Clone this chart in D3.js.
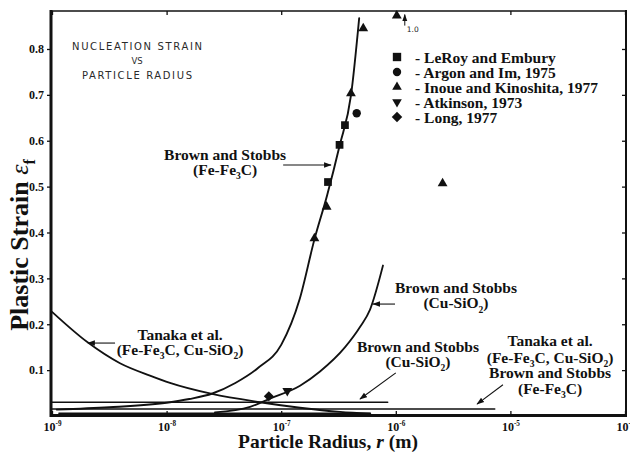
<!DOCTYPE html>
<html>
<head>
<meta charset="utf-8">
<script src="https://cdn.jsdelivr.net/npm/d3@7"></script>
<style>
  body { margin: 0; background: #fff; }
  svg { display: block; }
</style>
</head>
<body>
<svg id="chart" width="630" height="455"></svg>
<script>
// ---- Data: particle radius r (m) vs. nucleation plastic strain ----
const radiusTicks   = [1e-9, 1e-8, 1e-7, 1e-6, 1e-5, 1e-4];
const tickExponents = ["-9", "-8", "-7", "-6", "-5", "-4"];
const strainTicks   = [0.1, 0.2, 0.3, 0.4, 0.5, 0.6, 0.7, 0.8];

// Brown and Stobbs (Fe-Fe3C) prediction
const brownFeRadius = [1.10e-9, 3.16e-9, 1.0e-8, 1.58e-8, 2.51e-8, 3.98e-8, 6.31e-8, 1.0e-7, 1.45e-7, 1.95e-7, 2.51e-7, 3.24e-7, 4.07e-7, 4.79e-7];
const brownFeStrain = [0.014, 0.019, 0.029, 0.037, 0.049, 0.072, 0.105, 0.155, 0.255, 0.385, 0.480, 0.590, 0.700, 0.867];

// Brown and Stobbs (Cu-SiO2) prediction
const brownCuRadius = [2.64e-8, 5.35e-8, 7.98e-8, 1.46e-7, 2.18e-7, 3.61e-7, 4.90e-7, 5.96e-7, 7.73e-7];
const brownCuStrain = [0.008, 0.020, 0.038, 0.066, 0.097, 0.150, 0.195, 0.232, 0.328];

// Tanaka et al. (Fe-Fe3C, Cu-SiO2) prediction
const tanakaRadius = [1.0e-9, 2.06e-9, 3.92e-9, 7.16e-9, 1.07e-8, 2.49e-8, 6.53e-8, 1.46e-7, 3.26e-7, 5.96e-7];
const tanakaStrain = [0.227, 0.160, 0.115, 0.088, 0.072, 0.048, 0.030, 0.018, 0.009, 0.005];

// Lower-bound horizontal limits
const limitCuRadius   = [1.0e-9, 8.5e-7];
const limitCuStrain   = [0.030, 0.030];
const limitFeRadius   = [1.0e-9, 7.3e-6];
const limitFeStrain   = [0.015, 0.015];
const limitLowRadius  = [1.15e-9, 6.0e-7];
const limitLowStrain  = [0.006, 0.006];

// Experimental points
const leroyRadius    = [2.56e-7, 3.23e-7, 3.60e-7];
const leroyStrain    = [0.510, 0.591, 0.634];
const argonRadius    = [4.56e-7];
const argonStrain    = [0.660];
const inoueRadius    = [1.95e-7, 2.49e-7, 4.06e-7, 5.20e-7, 2.56e-6, 1.02e-6];
const inoueStrain    = [0.387, 0.456, 0.703, 0.845, 0.507, 1.0];
const atkinsonRadius = [1.13e-7];
const atkinsonStrain = [0.055];
const longRadius     = [7.8e-8];
const longStrain     = [0.043];

const legendLabels = ["- LeRoy and Embury", "- Argon and Im, 1975", "- Inoue and Kinoshita, 1977", "- Atkinson, 1973", "- Long, 1977"];

// ---- Layout ----
const svg = d3.select("#chart");
const serif = "'Liberation Serif', 'Times New Roman', serif";
const x = d3.scaleLog().domain([1e-9, 1e-4]).range([52, 625]);
const y = d3.scaleLinear().domain([0, 0.8828]).range([416, 11]);
const yTop = y.domain()[1] - 0.01;

svg.append("rect").attr("width", 630).attr("height", 455).attr("fill", "#fff");

const defs = svg.append("defs");
defs.append("marker").attr("id", "head").attr("viewBox", "0 0 10 10")
  .attr("refX", 9).attr("refY", 5).attr("markerWidth", 7).attr("markerHeight", 7)
  .attr("orient", "auto")
  .append("path").attr("d", "M0,1.5 L10,5 L0,8.5 Z").attr("fill", "#111");

// rich text: parts are [text, style] with style "sub", "sup", "it", "bi" or undefined
function rich(sel, parts, size) {
  let shift = 0;
  parts.forEach(([t, s]) => {
    const ts = sel.append("tspan").text(t);
    let target = 0;
    if (s === "sub") { ts.attr("font-size", size * 0.62); target = size * 0.28; }
    if (s === "sup") { ts.attr("font-size", size * 0.6); target = -size * 0.42; }
    if (s === "it") { ts.attr("font-style", "italic").attr("font-weight", "normal"); }
    if (s === "bi") { ts.attr("font-style", "italic"); }
    if (target !== shift) ts.attr("dy", target - shift);
    shift = target;
  });
  return sel;
}

// ---- Axes ----
const gLeft = svg.append("g").attr("transform", "translate(51,0)")
  .call(d3.axisLeft(y).tickValues(strainTicks).tickSize(4).tickSizeOuter(0).tickPadding(3).tickFormat(d3.format(".1f")));
const gRight = svg.append("g").attr("transform", "translate(626,0)")
  .call(d3.axisLeft(y).tickValues(strainTicks).tickSize(4).tickSizeOuter(0).tickFormat(""));
const gBottom = svg.append("g").attr("transform", "translate(0,415)")
  .call(d3.axisBottom(x).tickValues(radiusTicks).tickSize(-4).tickSizeOuter(0).tickFormat(() => ""));
const gTop = svg.append("g").attr("transform", "translate(0,11)")
  .call(d3.axisBottom(x).tickValues(radiusTicks).tickSize(4).tickSizeOuter(0).tickFormat(""));

[gLeft, gRight, gBottom, gTop].forEach(g => {
  g.select(".domain").remove();
  g.selectAll(".tick line").attr("stroke", "#111").attr("stroke-width", 1.3);
});
gLeft.selectAll(".tick text").attr("font-family", serif).attr("font-weight", "bold")
  .attr("font-size", 12).attr("fill", "#111");

gBottom.selectAll(".tick text").each(function(d, i) {
  const t = d3.select(this).text(null).attr("font-family", serif).attr("font-weight", "bold")
    .attr("font-size", 12).attr("fill", "#111").attr("y", 16).attr("dy", null);
  rich(t, [["10"], [tickExponents[i], "sup"]], 12);
});

// frame
const frame = svg.append("g").attr("stroke", "#111").attr("fill", "none");
frame.append("line").attr("x1", 51).attr("x2", 51).attr("y1", 10).attr("y2", 417).attr("stroke-width", 3);
frame.append("line").attr("x1", 50).attr("x2", 627).attr("y1", 415.5).attr("y2", 415.5).attr("stroke-width", 3);
frame.append("line").attr("x1", 50).attr("x2", 627).attr("y1", 11).attr("y2", 11).attr("stroke-width", 1.6);
frame.append("line").attr("x1", 626).attr("x2", 626).attr("y1", 10).attr("y2", 417).attr("stroke-width", 2);

// axis titles
const yTitle = svg.append("text").attr("transform", "translate(28,245) rotate(-90)")
  .attr("text-anchor", "middle").attr("font-family", serif).attr("font-weight", "bold")
  .attr("font-size", 26).attr("fill", "#111");
rich(yTitle, [["Plastic Strain "], ["\u03B5", "it"], ["f", "sub"]], 26);

const xTitle = svg.append("text").attr("x", 328).attr("y", 448)
  .attr("text-anchor", "middle").attr("font-family", serif).attr("font-weight", "bold")
  .attr("font-size", 19.5).attr("fill", "#111");
rich(xTitle, [["Particle Radius, "], ["r", "bi"], [" (m)"]], 19.5);

// ---- Curves ----
const zip = (rs, ss) => rs.map((r, i) => [r, ss[i]]);
const line = d3.line().x(d => x(d[0])).y(d => y(d[1])).curve(d3.curveMonotoneX);
const curves = svg.append("g").attr("fill", "none").attr("stroke", "#111").attr("stroke-linecap", "round");

curves.append("path").attr("d", line(zip(limitCuRadius, limitCuStrain))).attr("stroke-width", 1.5);
curves.append("path").attr("d", line(zip(limitFeRadius, limitFeStrain))).attr("stroke-width", 1.5);
curves.append("path").attr("d", line(zip(limitLowRadius, limitLowStrain))).attr("stroke-width", 1.6);
curves.append("path").attr("d", line(zip(tanakaRadius, tanakaStrain))).attr("stroke-width", 1.8);
curves.append("path").attr("d", line(zip(brownCuRadius, brownCuStrain))).attr("stroke-width", 1.8);
curves.append("path").attr("d", line(zip(brownFeRadius, brownFeStrain))).attr("stroke-width", 1.9);

// ---- Experimental markers ----
const marks = svg.append("g").attr("fill", "#111");
const sym = (type, size) => d3.symbol().type(type).size(size)();
function plot(rs, ss, type, size, rot) {
  zip(rs, ss).forEach(([r, s]) => {
    const cy = y(Math.min(s, yTop));
    marks.append("path").attr("d", sym(type, size))
      .attr("transform", `translate(${x(r)},${cy}) rotate(${rot || 0})`);
    if (s > yTop) {
      // off-scale point: up arrow with its value
      const ax = x(r) + 8;
      svg.append("line").attr("x1", ax).attr("x2", ax).attr("y1", cy + 10).attr("y2", cy - 1)
        .attr("stroke", "#111").attr("stroke-width", 1).attr("marker-end", "url(#head)");
      svg.append("text").attr("x", ax + 2).attr("y", cy + 16).attr("font-family", "DejaVu Sans, sans-serif")
        .attr("font-size", 7.5).attr("fill", "#222").text(d3.format(".1f")(s));
    }
  });
}
plot(leroyRadius, leroyStrain, d3.symbolSquare, 60);
plot(argonRadius, argonStrain, d3.symbolCircle, 55);
plot(inoueRadius, inoueStrain, d3.symbolTriangle, 42);
plot(atkinsonRadius, atkinsonStrain, d3.symbolTriangle, 42, 180);
plot(longRadius, longStrain, d3.symbolSquare, 50, 45);

// ---- Legend ----
const legendTypes = [[d3.symbolSquare, 70, 0], [d3.symbolCircle, 55, 0], [d3.symbolTriangle, 40, 0], [d3.symbolTriangle, 40, 180], [d3.symbolSquare, 55, 45]];
const legend = svg.append("g").attr("transform", "translate(397,57)");
legendLabels.forEach((lab, i) => {
  const row = legend.append("g").attr("transform", `translate(0,${i * 15})`);
  row.append("path").attr("d", sym(legendTypes[i][0], legendTypes[i][1]))
    .attr("transform", `rotate(${legendTypes[i][2]})`).attr("fill", "#111");
  row.append("text").attr("x", 18).attr("y", 5.5).attr("font-family", serif).attr("font-weight", "bold")
    .attr("font-size", 15.5).attr("fill", "#111").text(lab);
});

// ---- Heading lettering ----
const heading = svg.append("g").attr("font-family", "'DejaVu Sans', sans-serif").attr("font-size", 10)
  .attr("fill", "#2a2a2a").attr("text-anchor", "middle");
heading.append("text").attr("x", 137).attr("y", 50).attr("textLength", 130).attr("lengthAdjust", "spacing").text("NUCLEATION STRAIN");
heading.append("text").attr("x", 137).attr("y", 63.5).attr("font-size", 8.5).text("VS");
heading.append("text").attr("x", 137).attr("y", 79).attr("textLength", 110).attr("lengthAdjust", "spacing").text("PARTICLE RADIUS");

// ---- Annotations (positions in data units: radius, strain) ----
const FE = [["(Fe-Fe"], ["3", "sub"], ["C)"]];
const CU = [["(Cu-SiO"], ["2", "sub"], [")"]];
const BOTH = [["(Fe-Fe"], ["3", "sub"], ["C, Cu-SiO"], ["2", "sub"], [")"]];
const annotations = [
  { r: 3.24e-8, lines: [[[["Brown and Stobbs"]], 0.558], [FE, 0.525]],
    from: [1.04e-7, 0.547], to: [2.72e-7, 0.547] },
  { r: 1.31e-8, lines: [[[["Tanaka et al."]], 0.166], [BOTH, 0.133]],
    from: [3.55e-9, 0.159], to: [2.06e-9, 0.159] },
  { r: 3.35e-6, lines: [[[["Brown and Stobbs"]], 0.268], [CU, 0.235]],
    from: [9.84e-7, 0.244], to: [6.33e-7, 0.244] },
  { r: 1.56e-6, lines: [[[["Brown and Stobbs"]], 0.140], [CU, 0.107]],
    from: [1.0e-6, 0.094], to: [4.87e-7, 0.037] },
  { r: 2.22e-5, lines: [[[["Tanaka et al."]], 0.153], [BOTH, 0.116], [[["Brown and Stobbs"]], 0.083], [FE, 0.048]],
    from: [8.61e-6, 0.068], to: [5.12e-6, 0.026] }
];
const ann = svg.append("g");
annotations.forEach(a => {
  a.lines.forEach(([parts, s]) => {
    const t = ann.append("text").attr("x", x(a.r)).attr("y", y(s)).attr("text-anchor", "middle")
      .attr("font-family", serif).attr("font-weight", "bold").attr("font-size", 15.5).attr("fill", "#111");
    rich(t, parts, 15.5);
  });
  ann.append("line").attr("x1", x(a.from[0])).attr("y1", y(a.from[1]))
    .attr("x2", x(a.to[0])).attr("y2", y(a.to[1]))
    .attr("stroke", "#111").attr("stroke-width", 1.1).attr("marker-end", "url(#head)");
});
</script>
</body>
</html>
